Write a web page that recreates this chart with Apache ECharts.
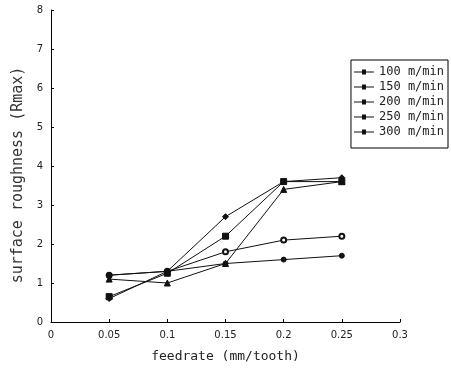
<!DOCTYPE html>
<html><head><meta charset="utf-8">
<script src="https://cdn.jsdelivr.net/npm/echarts@6/dist/echarts.min.js"></script>
<style>html,body{margin:0;padding:0;background:#fff}#c{width:451px;height:368px}</style>
</head><body><div id="c"></div>
<script>
const feedrates = [0.05, 0.1, 0.15, 0.2, 0.25];
const seriesNames = ['100 m/min', '150 m/min', '200 m/min', '250 m/min', '300 m/min'];
const v100 = [0.6, 1.3, 2.7, 3.6, 3.7];
const v150 = [0.65, 1.25, 2.2, 3.6, 3.6];
const v200 = [1.1, 1.0, 1.5, 3.4, 3.6];
const v250 = [1.2, 1.3, 1.8, 2.1, 2.2];
const v300 = [1.2, 1.3, 1.5, 1.6, 1.7];
const allValues = [v100, v150, v200, v250, v300];
const symbols = ['diamond', 'rect', 'triangle', 'emptyCircle', 'circle'];
const symbolSizes = [6, 6, 6, 5, 5];

const chart = echarts.init(document.getElementById('c'), null, {renderer: 'canvas'});
const mono = 'DejaVu Sans Mono';
chart.setOption({
  animation: false,
  backgroundColor: '#fff',
  grid: {left: 51, right: 51, top: 10, bottom: 46},
  legend: {
    right: 3, top: 60, orient: 'vertical',
    backgroundColor: '#fff', borderColor: '#000', borderWidth: 1,
    padding: [6, 4, 10, 3], itemGap: 3, itemWidth: 20, itemHeight: 6,
    textStyle: {fontFamily: mono, fontSize: 12, color: '#222', lineHeight: 12},
    data: seriesNames.map(n => ({name: n, icon: 'path://M0,5 L20,5 L20,6 L0,6 Z M8,3 L12,3 L12,8 L8,8 Z'}))
  },
  xAxis: {
    type: 'value', min: 0, max: 0.3, interval: 0.05,
    name: 'feedrate (mm/tooth)', nameLocation: 'middle', nameGap: 28,
    nameTextStyle: {fontFamily: mono, fontSize: 13, color: '#222'},
    axisLine: {lineStyle: {color: '#000', width: 1}},
    axisTick: {inside: true, length: 3, lineStyle: {color: '#000'}},
    axisLabel: {fontFamily: 'DejaVu Sans', fontSize: 10, color: '#222', margin: 8},
    splitLine: {show: false}
  },
  yAxis: {
    type: 'value', min: 0, max: 8, interval: 1,
    name: 'surface roughness (Rmax)', nameLocation: 'middle', nameGap: 21,
    nameTextStyle: {fontFamily: mono, fontSize: 15, color: '#333', padding: [0, 18, 0, 0]},
    axisLine: {show: true, lineStyle: {color: '#000', width: 1}},
    axisTick: {show: true, inside: true, length: 3, lineStyle: {color: '#000'}},
    axisLabel: {fontFamily: 'DejaVu Sans', fontSize: 10, color: '#222', margin: 8},
    splitLine: {show: false}
  },
  series: allValues.map((vals, i) => ({
    name: seriesNames[i], type: 'line',
    data: feedrates.map((f, j) => [f, vals[j]]),
    symbol: symbols[i], symbolSize: symbolSizes[i],
    lineStyle: {color: '#111', width: 1},
    itemStyle: {color: '#111', borderColor: '#111'}
  }))
});
</script></body></html>
